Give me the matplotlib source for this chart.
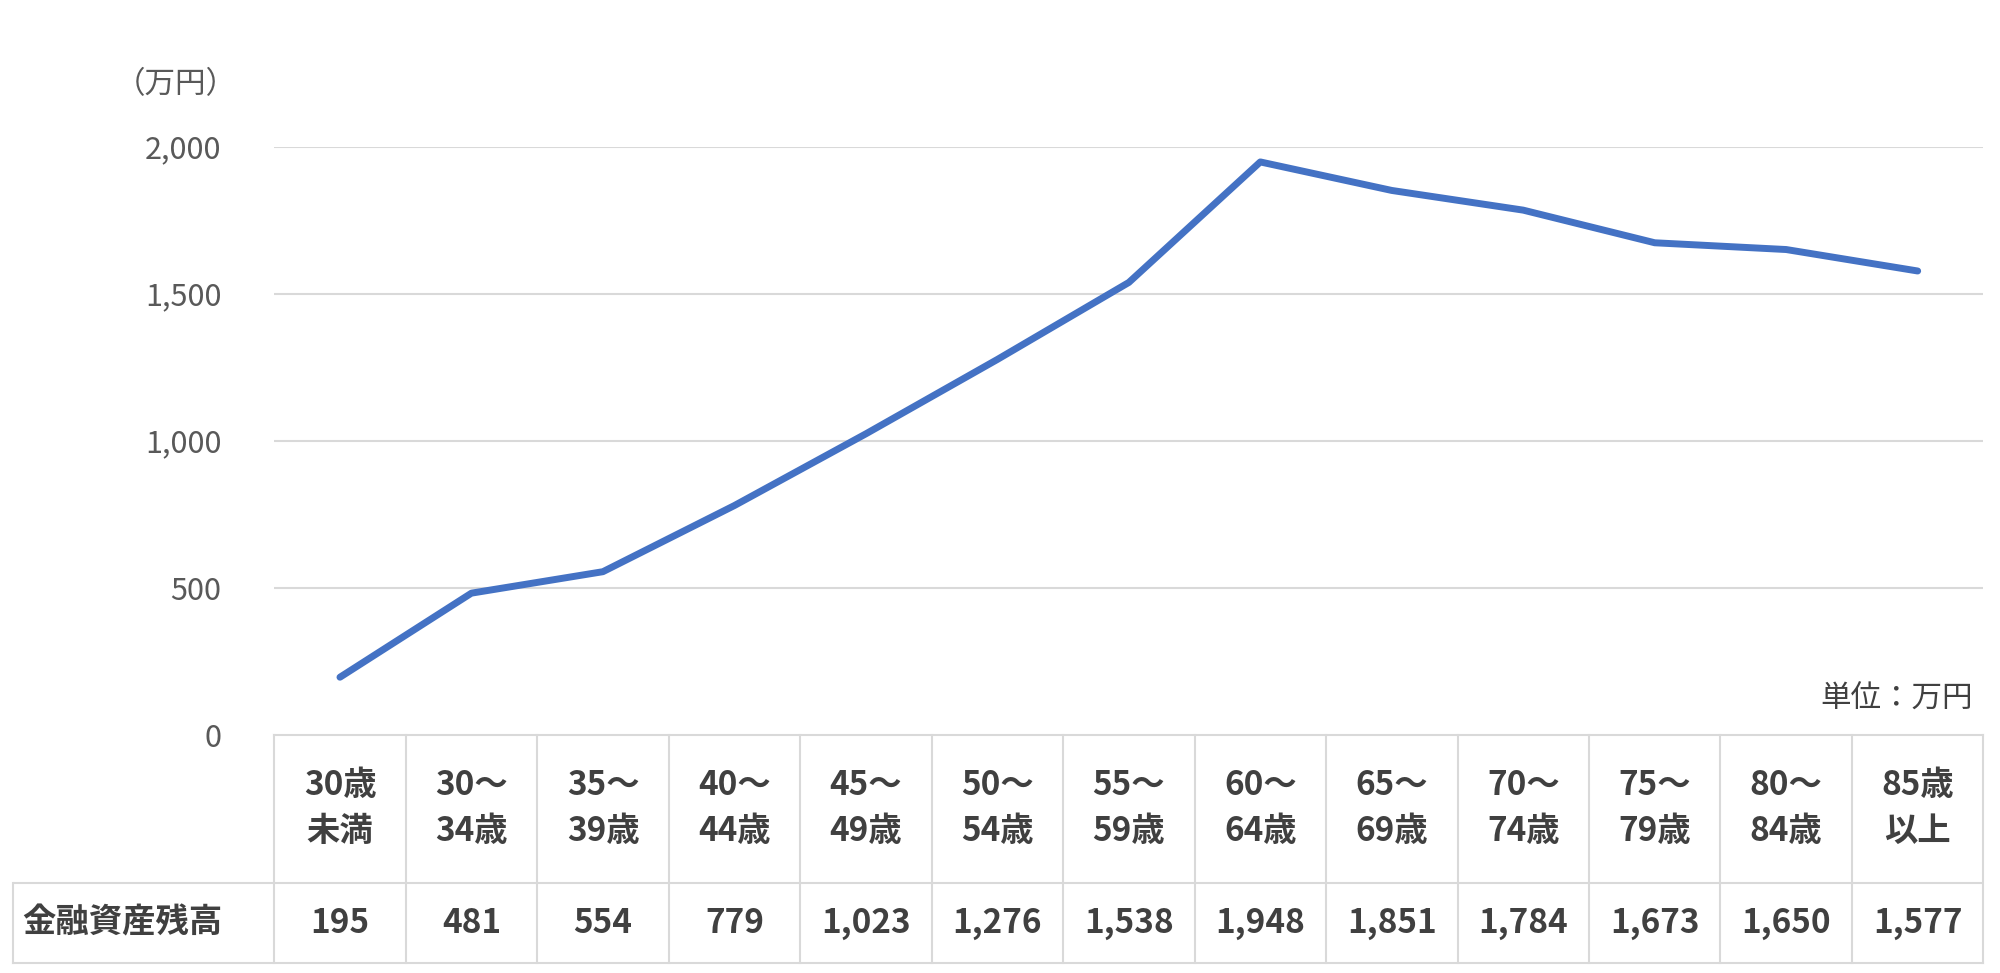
import matplotlib.pyplot as plt

plt.rcParams['font.family'] = ['Noto Sans CJK JP', 'DejaVu Sans']

categories = ['30歳\n未満', '30～\n34歳', '35～\n39歳', '40～\n44歳', '45～\n49歳',
              '50～\n54歳', '55～\n59歳', '60～\n64歳', '65～\n69歳', '70～\n74歳',
              '75～\n79歳', '80～\n84歳', '85歳\n以上']
values = [195, 481, 554, 779, 1023, 1276, 1538, 1948, 1851, 1784, 1673, 1650, 1577]
row_label = '金融資産残高'
yticks = [0, 500, 1000, 1500, 2000]

W, H = 1568, 763
fig = plt.figure(figsize=(20, 9.73), dpi=100)

def fx(px):
    return px / W

def fy(py):
    return 1 - py / H

grid_c = '#d9d9d9'
text_c = '#595959'
line_c = '#4472C4'

ax = fig.add_axes([fx(215), fy(576), fx(1555) - fx(215), fy(115) - fy(576)])
n = len(values)
ax.set_xlim(-0.5, n - 0.5)
ax.set_ylim(0, 2000)
ax.plot(range(n), values, color=line_c, lw=5, solid_capstyle='round')
for t in yticks[1:]:
    ax.axhline(t, color=grid_c, lw=1.5, zorder=0)
for s in ax.spines.values():
    s.set_visible(False)
ax.set_xticks([])
ax.set_yticks(yticks)
ax.set_yticklabels([f'{t:,}' for t in yticks], color=text_c, fontsize=22)
ax.tick_params(axis='y', length=0, pad=38)

fig.text(fx(90), fy(66), '（万円）', color=text_c, fontsize=22, ha='left', va='center')
fig.text(fx(1547), fy(548), '単位：万円', color='#404040', fontsize=22, ha='right', va='center')

# table below the chart
label_w = 205 / 103
tab = fig.add_axes([fx(10), fy(755), fx(1555) - fx(10), fy(576) - fy(755)])
tab.set_xlim(-0.5 - label_w, n - 0.5)
tab.set_ylim(0, 3)
tab.axis('off')
left = -0.5 - label_w
tab.plot([-0.5, n - 0.5], [3, 3], color=grid_c, lw=1.5, clip_on=False)
tab.plot([left, n - 0.5], [1.05, 1.05], color=grid_c, lw=1.5)
tab.plot([left, n - 0.5], [0, 0], color=grid_c, lw=1.5, clip_on=False)
tab.plot([left, left], [0, 1.05], color=grid_c, lw=1.5, clip_on=False)
for i in range(n + 1):
    tab.plot([i - 0.5, i - 0.5], [0, 3], color=grid_c, lw=1.5, clip_on=False)
for i, (c, v) in enumerate(zip(categories, values)):
    tab.text(i, 2.03, c, ha='center', va='center', fontsize=24, fontweight='bold',
             color='#404040', linespacing=1.5)
    tab.text(i, 0.52, f'{v:,}', ha='center', va='center', fontsize=24,
             fontweight='bold', color='#404040')
tab.text(left + 0.07, 0.52, row_label, ha='left', va='center', fontsize=24,
         fontweight='bold', color='#404040')

fig.savefig('out.png')
